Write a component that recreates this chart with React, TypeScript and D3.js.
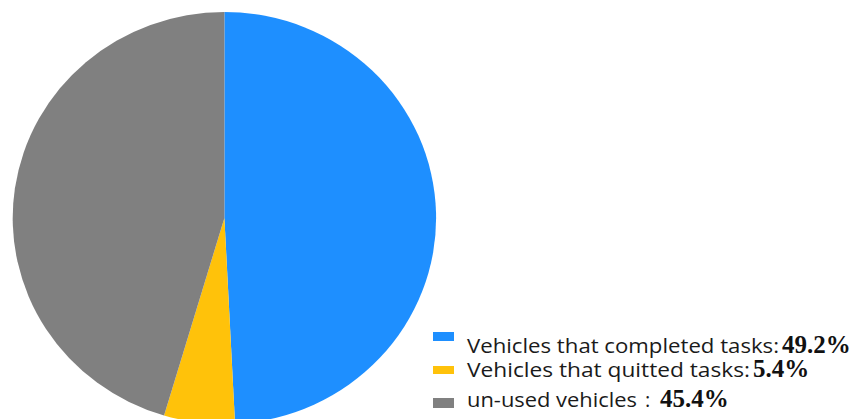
import React from "react";
import * as d3 from "d3";

const categories = ["Vehicles that completed tasks:", "Vehicles that quitted tasks:", "un-used vehicles"];
const values = [49.2, 5.4, 45.4];
const valueLabels = ["49.2%", "5.4%", "45.4%"];
const colors = ["#1E8FFF", "#FFC20A", "#808080"];

// legend layout (pixels)
const markerY = [332, 366, 398];
const markerH = [9, 8, 10];
const textBaseline = [353, 377, 407];
const textLengths = [312, 283, 170];
const numberX = [782, 753, 660];

export default function App() {
  const W = 859, H = 419;
  const cx = 224.4, cy = 218, rx = 211.7, ry = 206;
  const pie = d3.pie<number>().sort(null).value((d) => d);
  const arcs = pie(values);
  const arc = d3.arc<d3.PieArcDatum<number>>().innerRadius(0).outerRadius(ry);

  return (
    <div style={{ position: "fixed", left: 0, top: 0 }}>
      <svg width={W} height={H} style={{ display: "block", background: "#fff" }}>
        <g transform={`translate(${cx},${cy}) scale(${rx / ry},1)`}>
          {arcs.map((a, i) => (
            <path key={i} d={arc(a) || ""} fill={colors[i]} />
          ))}
        </g>
        {categories.map((c, i) => (
          <g key={i}>
            <rect x={433} y={markerY[i]} width={21} height={markerH[i]} fill={colors[i]} />
            <text
              x={467}
              y={textBaseline[i]}
              fontFamily="'Open Sans', 'Noto Sans', sans-serif"
              fontSize={20}
              fill="#1a1a1a"
              textLength={textLengths[i]}
              lengthAdjust="spacingAndGlyphs"
            >
              {c}
            </text>
            {i === 2 && (
              <text x={645} y={textBaseline[i]} fontFamily="'Open Sans', sans-serif" fontSize={20} fill="#1a1a1a">
                :
              </text>
            )}
            <text
              x={numberX[i]}
              y={textBaseline[i]}
              fontFamily="'Liberation Serif', 'Times New Roman', serif"
              fontWeight="bold"
              fontSize={25}
              fill="#111"
            >
              {valueLabels[i]}
            </text>
          </g>
        ))}
      </svg>
    </div>
  );
}
